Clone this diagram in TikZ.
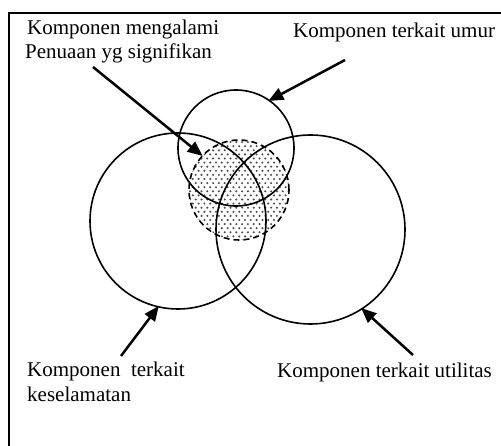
\documentclass[tikz,border=0pt]{standalone}
\usepackage{fontspec}
\setmainfont{Liberation Serif}
\usetikzlibrary{arrows.meta}
\begin{document}
\begin{tikzpicture}[x=1pt,y=-1pt,
  ring/.style={circle,draw,line width=1.6pt,inner sep=0pt,outer sep=0pt},
  lbl/.style={inner sep=0pt,anchor=base west,font=\fontsize{21}{25}\selectfont},
  pointer/.style={line width=2.5pt,-{Triangle[length=15pt,width=12.5pt]},shorten >=-1pt}]
  \useasboundingbox (0,0) rectangle (501,446);
  % frame (open on the right and at the bottom)
  \draw[line width=1.5pt] (9,446) -- (9,13) -- (501,13);

  % stippled region of significant ageing: staggered rows of dots
  \begin{scope}
    \clip (239,190) circle[radius=50];
    \foreach \r in {0,...,26} {
      \pgfmathsetmacro{\yy}{138+4.1*\r}
      \pgfmathsetmacro{\sh}{mod(\r,2)*2.9}
      \foreach \c in {0,...,18} {
        \fill[black!70] ({187+\sh+5.8*\c},\yy) circle[radius=1.15];
      }
    }
  \end{scope}
  \node[circle,draw,line width=1.6pt,dash pattern=on 6pt off 4pt,
        inner sep=0pt,minimum size=100pt] (aging) at (239,190) {};

  % the three component groups
  \node[ring,minimum size=176pt] (safe) at (178,221) {};
  \node[ring,minimum size=116pt] (age) at (236,148) {};
  \node[ring,minimum size=189pt] (util) at (310.5,229.5) {};

  % labels
  \node[lbl] (t1) at (27,35) {Komponen mengalami};
  \node[lbl] (t2) at (25,59) {Penuaan yg signifikan};
  \node[lbl] (t3) at (293,38) {Komponen terkait umur};
  \node[lbl,align=left] (t4) at (27,402) {Komponen\ \ terkait\\keselamatan};
  \node[lbl] (t5) at (277,378) {Komponen terkait utilitas};

  % arrow tails
  \coordinate (p1) at (93,67);
  \coordinate (p3) at (345,60);
  \coordinate (p4) at (121,356);
  \coordinate (p5) at (413,355);

  \draw[pointer] (p1) -- (aging.137);
  \draw[pointer] (p3) -- (age.55);
  \draw[pointer] (p4) -- (safe.257);
  \draw[pointer] (p5) -- (util.303);
\end{tikzpicture}
\end{document}
